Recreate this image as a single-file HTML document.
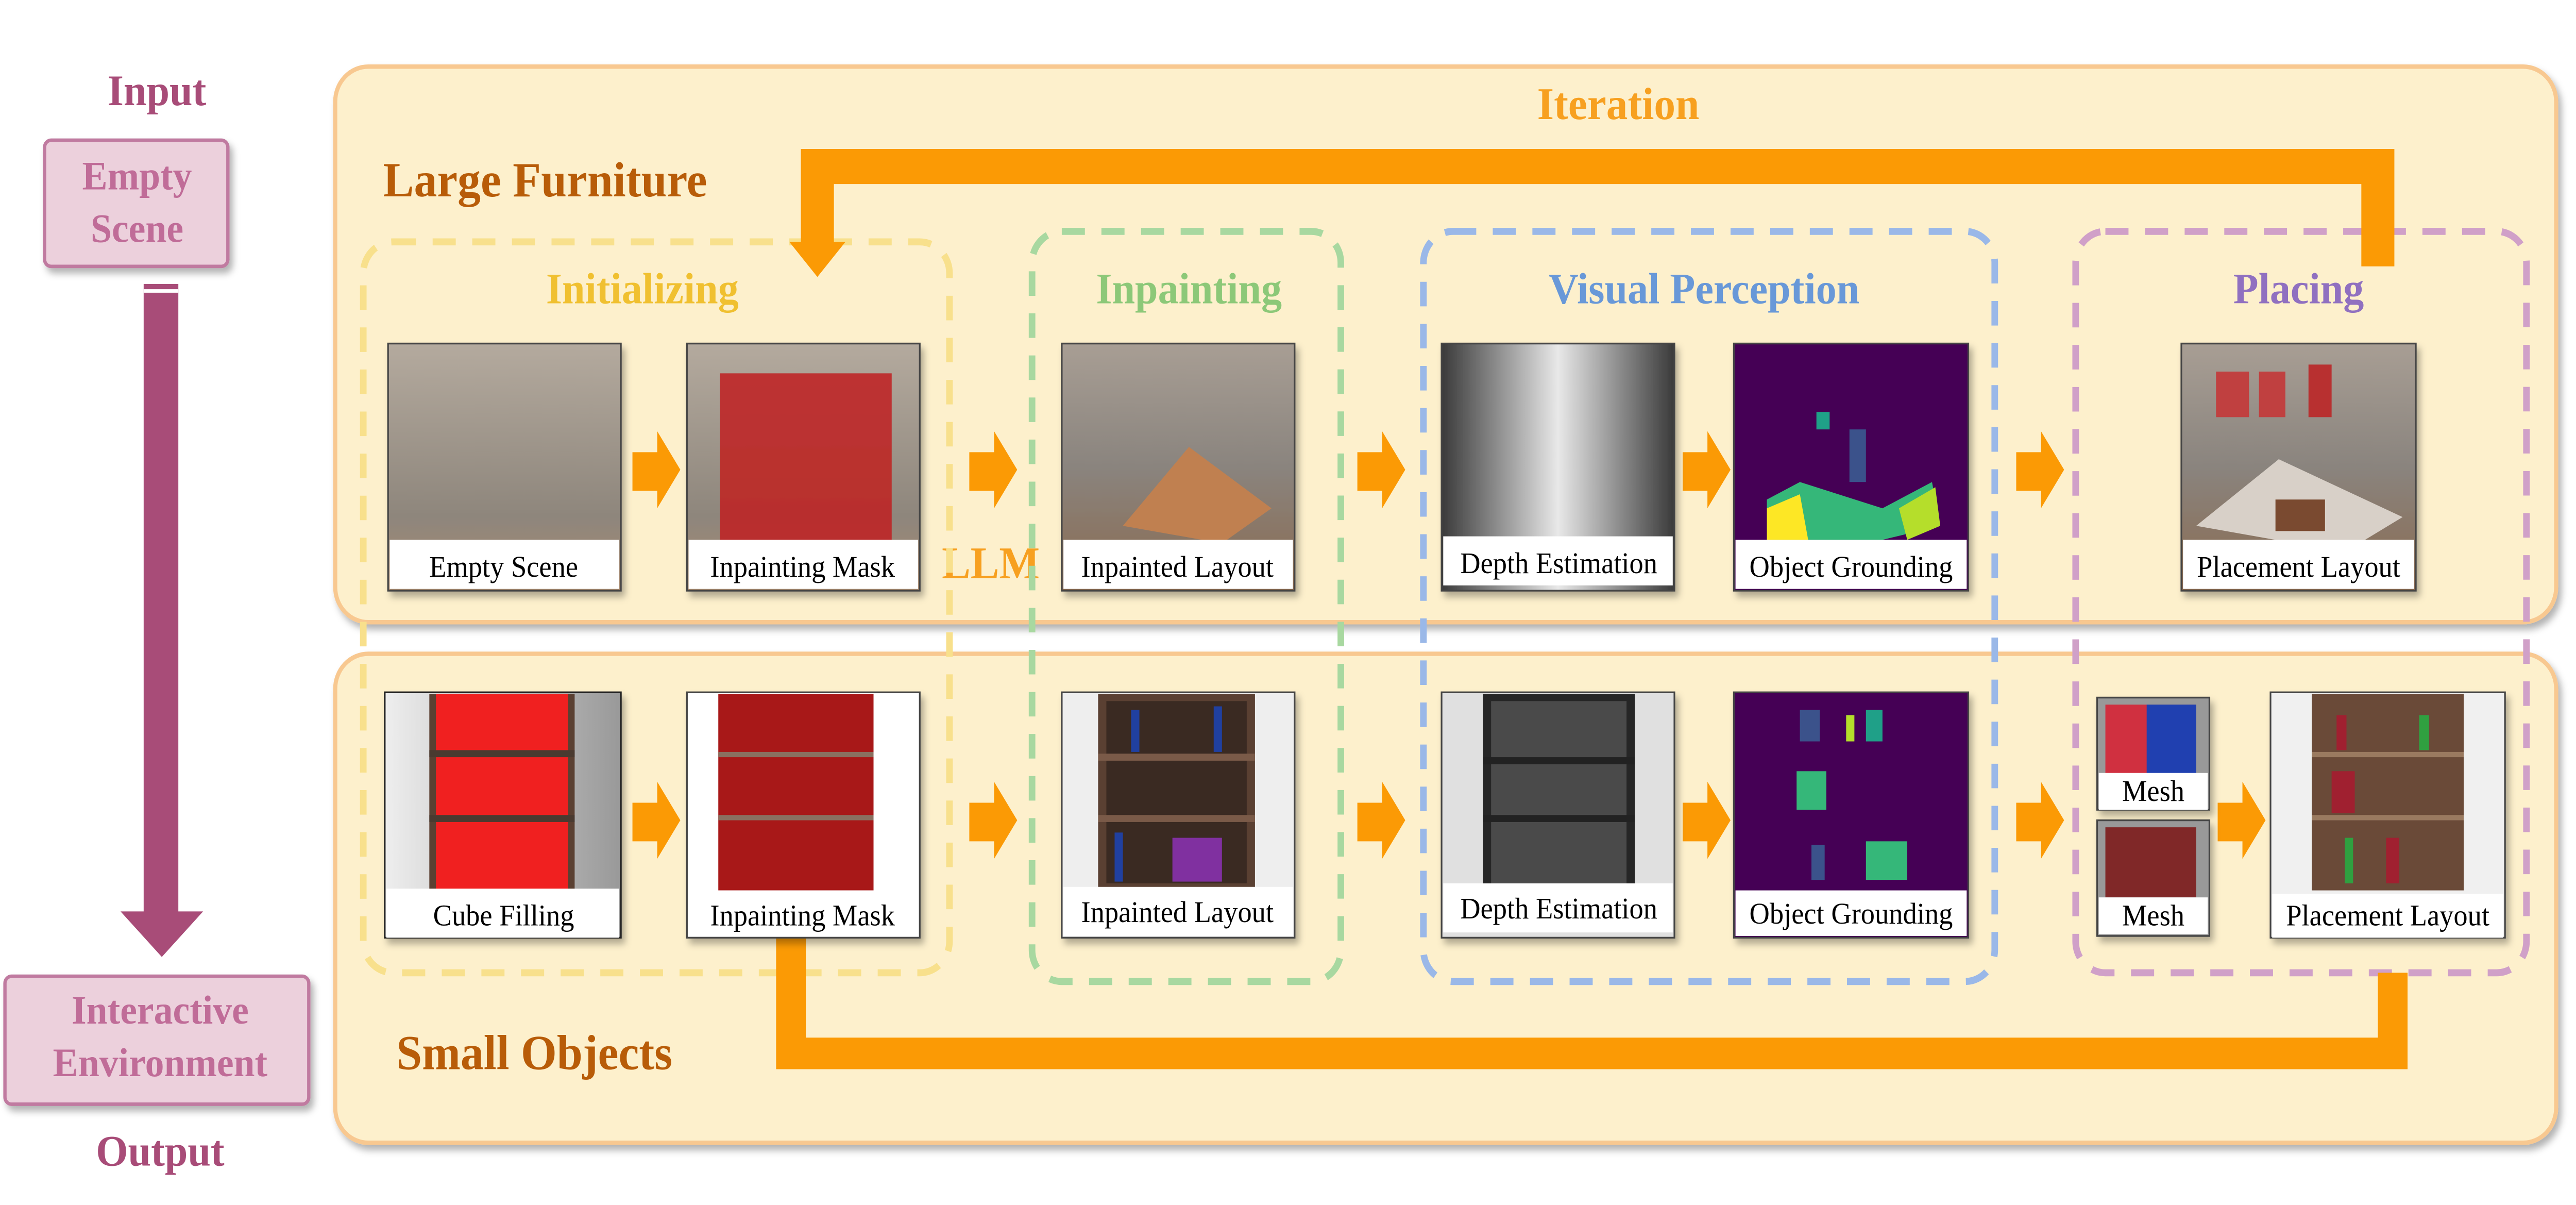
<!DOCTYPE html>
<html><head><meta charset="utf-8"><style>html,body{margin:0;padding:0;background:#fff;overflow:hidden;width:100%;height:100%}svg{display:block;width:100vw;height:100vh}</style></head>
<body>
<svg viewBox="0 0 1560 687.5" preserveAspectRatio="none" xmlns="http://www.w3.org/2000/svg" font-family="'Liberation Serif', serif">
<defs>
<linearGradient id="wall" x1="0" y1="0" x2="0" y2="1"><stop offset="0" stop-color="#b4aa9e"/><stop offset="0.7" stop-color="#8e867c"/><stop offset="1" stop-color="#a88a70"/></linearGradient>
<linearGradient id="depth" x1="0" y1="0" x2="1" y2="0"><stop offset="0" stop-color="#3a3a3a"/><stop offset="0.5" stop-color="#e8e8e8"/><stop offset="1" stop-color="#3a3a3a"/></linearGradient>
<linearGradient id="side" x1="0" y1="0" x2="1" y2="0"><stop offset="0" stop-color="#eee"/><stop offset="1" stop-color="#999"/></linearGradient>
<linearGradient id="room" x1="0" y1="0" x2="0" y2="1"><stop offset="0" stop-color="#a89e94"/><stop offset="0.5" stop-color="#8a847e"/><stop offset="1" stop-color="#8a6a50"/></linearGradient>
<filter id="sh" x="-5%" y="-5%" width="115%" height="120%"><feDropShadow dx="2" dy="3" stdDeviation="2" flood-color="#000" flood-opacity="0.3"/></filter>
</defs>
<rect x="203" y="38" width="1345" height="317" rx="20" fill="#fdf0cc" stroke="#f8c890" stroke-width="2.5" filter="url(#sh)"/>
<rect x="203" y="373" width="1345" height="279" rx="20" fill="#fdf0cc" stroke="#f8c890" stroke-width="2.5" filter="url(#sh)"/>

<text x="95" y="60" font-size="25" font-weight="bold" fill="#a84c78" text-anchor="middle">Input</text>
<rect x="27" y="80" width="111" height="72" rx="4" fill="#ecd0dc" stroke="#c07aa0" stroke-width="2" filter="url(#sh)"/>
<text x="83" y="108" font-size="23" font-weight="bold" fill="#c06c98" text-anchor="middle">Empty</text>
<text x="83" y="138" font-size="23" font-weight="bold" fill="#c06c98" text-anchor="middle">Scene</text>
<rect x="87" y="162" width="21" height="360" fill="#a84c78"/>
<rect x="87" y="165" width="21" height="2" fill="#fff"/>
<polygon points="73,520 123,520 98,546" fill="#a84c78"/>
<rect x="3" y="557" width="184" height="73" rx="4" fill="#ecd0dc" stroke="#c07aa0" stroke-width="2" filter="url(#sh)"/>
<text x="97" y="584" font-size="23" font-weight="bold" fill="#c06c98" text-anchor="middle">Interactive</text>
<text x="97" y="614" font-size="23" font-weight="bold" fill="#c06c98" text-anchor="middle">Environment</text>
<text x="97" y="665" font-size="25" font-weight="bold" fill="#a84c78" text-anchor="middle">Output</text>

<text x="232" y="112" font-size="28" font-weight="bold" fill="#b85c08">Large Furniture</text>
<text x="240" y="610" font-size="28" font-weight="bold" fill="#b85c08">Small Objects</text>
<text x="980" y="68" font-size="26" font-weight="bold" fill="#f7a020" text-anchor="middle">Iteration</text>
<text x="600" y="330" font-size="26" font-weight="bold" fill="#f7a020" text-anchor="middle">LLM</text>

<g fill="none" stroke-width="4" stroke-dasharray="14 10">
<rect x="220" y="138" width="355" height="417" rx="18" stroke="#f8e08c"/>
<rect x="625" y="132" width="187" height="428" rx="18" stroke="#a8d8a0"/>
<rect x="862" y="132" width="346" height="428" rx="18" stroke="#9ab8e8"/>
<rect x="1257" y="132" width="273" height="423" rx="18" stroke="#d0a0c8"/>
</g>
<g font-size="25" font-weight="bold" text-anchor="middle">
<text x="389" y="173" fill="#f0c030">Initializing</text>
<text x="720" y="173" fill="#8cc878">Inpainting</text>
<text x="1032" y="173" fill="#6898d8">Visual Perception</text>
<text x="1392" y="173" fill="#9070c0">Placing</text>
</g>

<path d="M1440,152 V95 H495 V140" fill="none" stroke="#fb9a05" stroke-width="20"/>
<polygon points="478,138 512,138 495,158" fill="#fb9a05"/>
<path d="M1449,555 V601 H479 V500" fill="none" stroke="#fb9a05" stroke-width="18"/>
<polygon points="461,502 497,502 479,478" fill="#fb9a05"/>

<g fill="#fb9a05">
<polygon points="383,258 398,258 398,246 412,268 398,290 398,280 383,280"/>
<polygon points="587,258 602,258 602,246 616,268 602,290 602,280 587,280"/>
<polygon points="822,258 837,258 837,246 851,268 837,290 837,280 822,280"/>
<polygon points="1019,258 1034,258 1034,246 1048,268 1034,290 1034,280 1019,280"/>
<polygon points="1221,258 1236,258 1236,246 1250,268 1236,290 1236,280 1221,280"/>
<polygon points="383,458 398,458 398,446 412,468 398,490 398,480 383,480"/>
<polygon points="587,458 602,458 602,446 616,468 602,490 602,480 587,480"/>
<polygon points="822,458 837,458 837,446 851,468 837,490 837,480 822,480"/>
<polygon points="1019,458 1034,458 1034,446 1048,468 1034,490 1034,480 1019,480"/>
<polygon points="1221,458 1236,458 1236,446 1250,468 1236,490 1236,480 1221,480"/>
<polygon points="1343,458 1358,458 1358,446 1372,468 1358,490 1358,480 1343,480"/>
</g>

<g filter="url(#sh)">
<rect x="235" y="196" width="141" height="141" fill="url(#wall)" stroke="#444"/>
<rect x="416" y="196" width="141" height="141" fill="url(#wall)" stroke="#444"/>
<rect x="436" y="213" width="104" height="100" fill="#c02020" opacity="0.85"/>
<rect x="643" y="196" width="141" height="141" fill="url(#room)" stroke="#444"/>
<rect x="873" y="196" width="141" height="141" fill="url(#depth)" stroke="#444"/>
<rect x="1050" y="196" width="142" height="141" fill="#440154" stroke="#444"/>
<rect x="1321" y="196" width="142" height="141" fill="url(#room)" stroke="#444"/>
</g>
<polygon points="680,300 720,255 770,290 740,310" fill="#c08050"/>
<polygon points="1330,300 1380,262 1455,295 1420,315" fill="#d8d0c8"/>
<rect x="1378" y="285" width="30" height="18" fill="#7a4a30"/>
<rect x="1342" y="212" width="20" height="26" fill="#c04040"/><rect x="1368" y="212" width="16" height="26" fill="#c04040"/><rect x="1398" y="208" width="14" height="30" fill="#b83030"/>
<polygon points="1070,285 1090,275 1140,290 1170,275 1175,300 1140,308 1070,308" fill="#35b779"/>
<polygon points="1070,290 1090,282 1095,308 1070,308" fill="#fde725"/>
<polygon points="1150,290 1172,278 1175,300 1155,308" fill="#b5de2b"/>
<rect x="1100" y="235" width="8" height="10" fill="#1fa088"/><rect x="1120" y="245" width="10" height="30" fill="#3b528b"/>
<g fill="#fff"><rect x="236" y="308" width="139" height="28"/><rect x="417" y="308" width="139" height="28"/><rect x="644" y="308" width="139" height="28"/><rect x="874" y="306" width="139" height="28"/><rect x="1051" y="308" width="140" height="28"/><rect x="1322" y="308" width="140" height="28"/></g>

<g filter="url(#sh)">
<rect x="233" y="395" width="143" height="140" fill="url(#side)" stroke="#222"/>
<rect x="416" y="395" width="141" height="140" fill="#fff" stroke="#444"/>
<rect x="643" y="395" width="141" height="140" fill="#eee" stroke="#444"/>
<rect x="873" y="395" width="141" height="140" fill="#e0e0e0" stroke="#444"/>
<rect x="1050" y="395" width="142" height="140" fill="#440154" stroke="#444"/>
<rect x="1270" y="398" width="68" height="64" fill="#999" stroke="#444"/>
<rect x="1270" y="468" width="68" height="66" fill="#999" stroke="#444"/>
<rect x="1375" y="395" width="142" height="140" fill="#f0f0f0" stroke="#444"/>
</g>
<rect x="260" y="396" width="88" height="112" fill="#5a4032"/>
<rect x="264" y="396" width="80" height="112" fill="#f02020"/>
<rect x="260" y="428" width="88" height="4" fill="#4a3a30"/><rect x="260" y="465" width="88" height="4" fill="#4a3a30"/>
<rect x="435" y="396" width="94" height="112" fill="#a81818"/>
<rect x="435" y="429" width="94" height="3" fill="#8a7060"/><rect x="435" y="465" width="94" height="3" fill="#8a7060"/>
<rect x="665" y="396" width="95" height="112" fill="#5a4032"/>
<rect x="670" y="400" width="85" height="104" fill="#3a2a22"/>
<rect x="665" y="430" width="95" height="4" fill="#7a5a48"/><rect x="665" y="465" width="95" height="4" fill="#7a5a48"/>
<g fill="#2040a0"><rect x="685" y="405" width="5" height="24"/><rect x="735" y="403" width="5" height="26"/><rect x="675" y="475" width="5" height="28"/><rect x="710" y="478" width="30" height="25" fill="#8030a0"/></g>
<rect x="898" y="396" width="92" height="112" fill="#262626"/>
<rect x="903" y="400" width="82" height="104" fill="#4a4a4a"/>
<rect x="898" y="432" width="92" height="4" fill="#222"/><rect x="898" y="465" width="92" height="4" fill="#222"/>
<rect x="1090" y="405" width="12" height="18" fill="#3b528b"/>
<rect x="1118" y="408" width="5" height="15" fill="#b5de2b"/><rect x="1130" y="405" width="10" height="18" fill="#1fa088"/>
<rect x="1088" y="440" width="18" height="22" fill="#35b779"/><rect x="1130" y="480" width="25" height="22" fill="#35b779"/><rect x="1097" y="482" width="8" height="20" fill="#3b528b"/>
<rect x="1275" y="402" width="55" height="40" fill="#d03040"/><rect x="1300" y="402" width="30" height="40" fill="#2040b0"/>
<rect x="1275" y="472" width="55" height="40" fill="#802828"/>
<rect x="1400" y="396" width="92" height="112" fill="#6a4a38"/>
<rect x="1400" y="429" width="92" height="3" fill="#9a7a60"/><rect x="1400" y="465" width="92" height="3" fill="#9a7a60"/>
<g fill="#a02030"><rect x="1415" y="408" width="6" height="20"/><rect x="1412" y="440" width="14" height="24"/><rect x="1445" y="478" width="8" height="26"/></g>
<rect x="1465" y="408" width="6" height="20" fill="#30a040"/><rect x="1420" y="478" width="5" height="26" fill="#30a040"/>
<g fill="#fff"><rect x="234" y="507" width="141" height="28"/><rect x="417" y="508" width="139" height="26"/><rect x="644" y="506" width="139" height="28"/><rect x="874" y="504" width="139" height="28"/><rect x="1051" y="508" width="140" height="26"/><rect x="1271" y="441" width="66" height="21"/><rect x="1271" y="512" width="66" height="21"/><rect x="1376" y="510" width="140" height="25"/></g>

<g font-size="17" fill="#000" text-anchor="middle">
<text x="305" y="329">Empty Scene</text>
<text x="486" y="329">Inpainting Mask</text>
<text x="713" y="329">Inpainted Layout</text>
<text x="944" y="327">Depth Estimation</text>
<text x="1121" y="329">Object Grounding</text>
<text x="1392" y="329">Placement Layout</text>
<text x="305" y="528">Cube Filling</text>
<text x="486" y="528">Inpainting Mask</text>
<text x="713" y="526">Inpainted Layout</text>
<text x="944" y="524">Depth Estimation</text>
<text x="1121" y="527">Object Grounding</text>
<text x="1304" y="457">Mesh</text>
<text x="1304" y="528">Mesh</text>
<text x="1446" y="528">Placement Layout</text>
</g>
</svg>
</body></html>
